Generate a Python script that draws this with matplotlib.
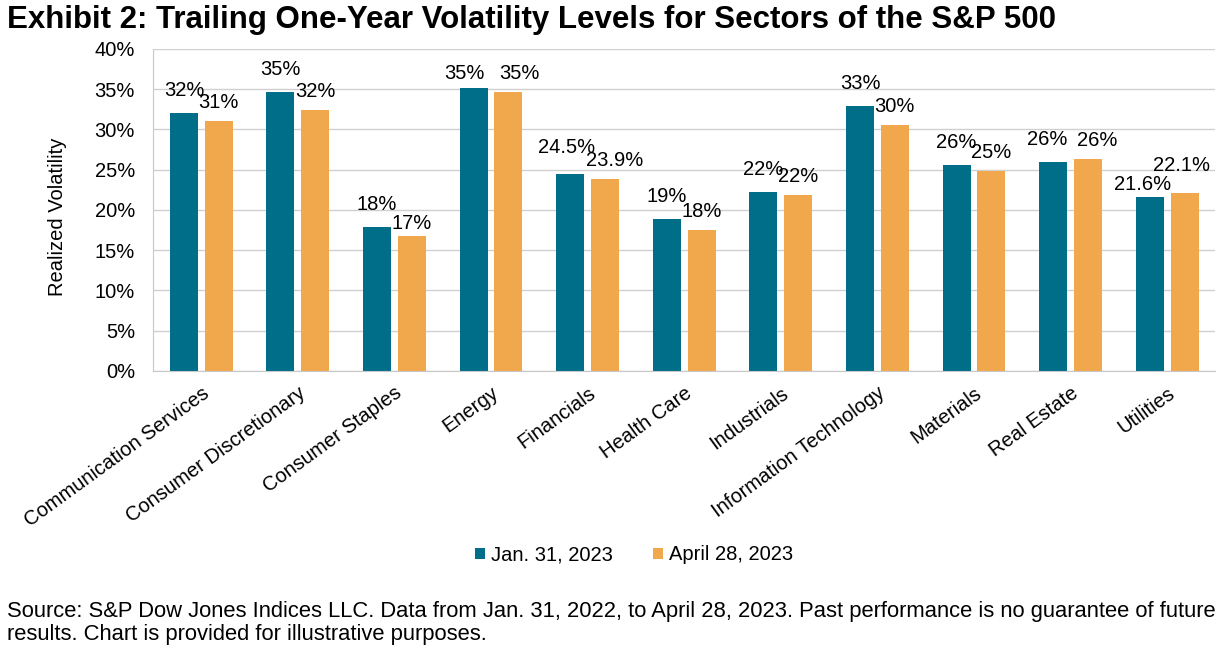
import numpy as np
import matplotlib
matplotlib.use("Agg")
import matplotlib.pyplot as plt
from matplotlib.ticker import FuncFormatter

plt.rcParams['font.family'] = ['Liberation Sans', 'DejaVu Sans']

sectors = ["Communication Services", "Consumer Discretionary", "Consumer Staples",
           "Energy", "Financials", "Health Care", "Industrials",
           "Information Technology", "Materials", "Real Estate", "Utilities"]
jan_vals = [32.0, 34.6, 17.9, 35.2, 24.5, 18.9, 22.2, 32.9, 25.6, 25.9, 21.6]
apr_vals = [31.0, 32.4, 16.8, 34.6, 23.9, 17.5, 21.8, 30.5, 24.8, 26.3, 22.1]
jan_labels = ["32%", "35%", "18%", "35%", "24.5%", "19%", "22%", "33%", "26%", "26%", "21.6%"]
apr_labels = ["31%", "32%", "17%", "35%", "23.9%", "18%", "22%", "30%", "25%", "26%", "22.1%"]
series_names = ["Jan. 31, 2023", "April 28, 2023"]

TEAL = "#006E89"
ORANGE = "#F1A84C"
FS = 14.5

fig = plt.figure(figsize=(12.24, 6.49), dpi=100)
ax = fig.add_axes([0.125, 0.4284, 0.868, 0.4961])

x = np.arange(len(sectors))
w = 0.29
off = 0.18
b1 = ax.bar(x - off, jan_vals, w, color=TEAL, label=series_names[0])
b2 = ax.bar(x + off, apr_vals, w, color=ORANGE, label=series_names[1])

# data labels: default gap per series, a few were nudged in the original (points)
nudge1 = {3: (-7, 3.2), 4: (-3, 12.0), 9: (-4.3, 9.4), 10: (-5, 2.0)}
nudge2 = {2: (0, 2.0), 3: (8, 6.5), 4: (7.2, 6.0), 9: (6.5, 6.5), 10: (-2, 13.0)}
for bars, labs, dy, nudges in ((b1, jan_labels, 9.4, nudge1), (b2, apr_labels, 6.5, nudge2)):
    for i, (r, lab) in enumerate(zip(bars, labs)):
        ax.annotate(lab, (r.get_x() + r.get_width() / 2, r.get_height()),
                    xytext=nudges.get(i, (0, dy)), textcoords="offset points",
                    ha="center", va="bottom", fontsize=FS)

ax.set_xlim(-0.5, len(sectors) - 0.5)
ax.set_ylim(0, 40)
ax.set_yticks(np.arange(0, 41, 5))
ax.yaxis.set_major_formatter(FuncFormatter(lambda v, p: f"{v:.0f}%"))
ax.grid(axis="y", color="#D0D0D0", linewidth=1)
ax.set_axisbelow(True)
for s in ("top", "right"):
    ax.spines[s].set_visible(False)
for s in ("left", "bottom"):
    ax.spines[s].set_color("#C8C8C8")
ax.tick_params(axis="y", length=0, labelsize=FS, pad=13)
ax.tick_params(axis="x", length=0, labelsize=FS, pad=9)
ax.set_xticks(x)
ax.set_xticklabels(sectors, rotation=36, ha="right", va="top", rotation_mode="anchor")
ax.set_ylabel("Realized Volatility", fontsize=FS)
ax.yaxis.set_label_coords(-0.081, 0.48)

fig.legend(handles=[b1, b2], loc="center", bbox_to_anchor=(0.518, 0.145),
           ncol=2, frameon=False, fontsize=FS, handlelength=0.5,
           handleheight=0.5, handletextpad=0.3, columnspacing=2.0)

fig.text(0.006, 0.969, "Exhibit 2: Trailing One-Year Volatility Levels for Sectors of the S&P 500",
         fontsize=22.5, fontweight="bold", va="center")
fig.text(0.006, 0.040,
         "Source: S&P Dow Jones Indices LLC. Data from Jan. 31, 2022, to April 28, 2023. Past performance is no guarantee of future\n"
         "results. Chart is provided for illustrative purposes.",
         fontsize=15.8, va="center", linespacing=1.1)

fig.savefig("out.png", dpi=100)
